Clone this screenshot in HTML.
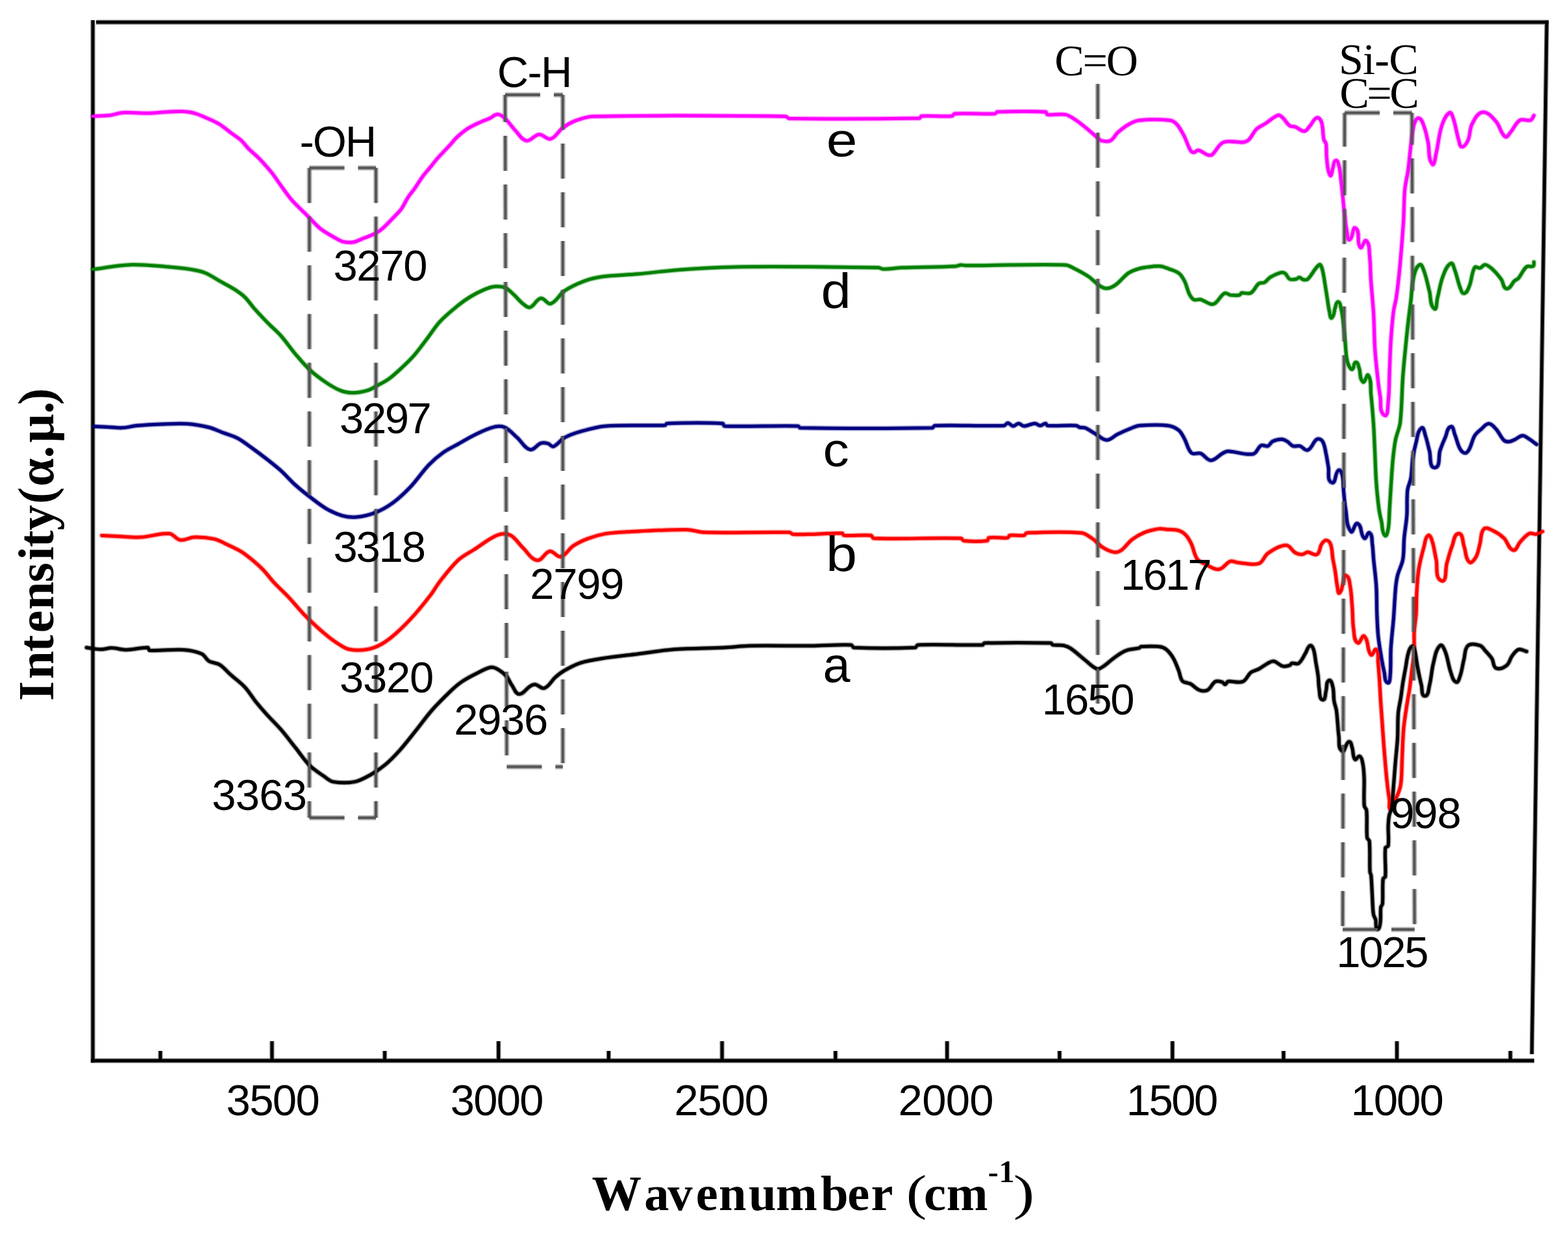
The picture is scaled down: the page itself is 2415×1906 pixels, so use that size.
<!DOCTYPE html><html><head><meta charset="utf-8"><title>FTIR spectra</title><style>html,body{margin:0;padding:0;background:#fff;}svg{display:block;}</style></head><body>
<svg width="2415" height="1906" viewBox="0 0 2415 1906">
<rect width="2415" height="1906" fill="#fff"/>
<defs>
<path id="fr" d="M143,31 V1636 M148,34.2 H2385 M140,1633 H2363 M2382.3,31.5 L2359.3,1623 M418.9,1603 V1633 M767.8,1603 V1633 M1112.1,1603 V1633 M1458.7,1603 V1633 M1805.8,1603 V1633 M2151.5,1603 V1633 M247,1618 V1633 M592.6,1618 V1633 M937.4,1618 V1633 M1286.8,1618 V1633 M1631.9,1618 V1633 M1976.9,1618 V1633 M2326.2,1618 V1633"/>
<path id="ds0" d="M476.5,258.6 L476.5,1259"/>
<path id="ds1" d="M579,258.6 L579,1259"/>
<path id="ds2" d="M476.5,258.6 L579,258.6"/>
<path id="ds3" d="M476.5,1259 L579,1259"/>
<path id="ds4" d="M778,146 L780.5,1180.6"/>
<path id="ds5" d="M866.8,146 L866.8,1180.6"/>
<path id="ds6" d="M778,146 L866.8,146"/>
<path id="ds7" d="M780.5,1180.6 L866.8,1180.6"/>
<path id="ds8" d="M1690.8,129.3 L1690.8,1086"/>
<path id="ds9" d="M2071,173.7 L2068,1431"/>
<path id="ds10" d="M2174.6,173.7 L2178.7,1431"/>
<path id="ds11" d="M2071,173.7 L2174.6,173.7"/>
<path id="ds12" d="M2068,1431 L2178.7,1431"/>
<path id="cve" d="M143.0,179.0 C151.8,178.5 160.6,178.6 169.3,177.6 C175.9,176.8 182.1,173.9 188.7,173.5 C201.6,172.8 214.6,174.5 227.5,174.3 C236.8,174.2 246.0,173.1 255.3,172.6 C263.6,172.2 271.9,171.2 280.2,171.5 C286.7,171.8 293.3,172.5 299.6,174.3 C307.3,176.5 314.5,180.0 321.8,183.2 C327.5,185.7 333.2,188.2 338.4,191.5 C344.3,195.2 349.5,199.9 355.0,204.0 C360.6,208.2 366.5,211.8 371.7,216.4 C375.9,220.1 378.9,225.0 382.8,228.9 C388.1,234.2 394.2,238.8 399.4,244.2 C406.2,251.3 412.7,258.7 418.8,266.3 C423.8,272.5 428.0,279.3 432.7,285.7 C438.2,293.2 443.2,301.0 449.3,307.9 C457.1,316.7 466.0,324.6 474.3,332.9 C480.8,339.4 486.5,346.6 493.7,352.3 C500.5,357.7 508.4,361.6 515.9,366.0 C519.6,368.2 523.2,370.7 527.4,371.8 C532.6,373.1 538.1,373.7 543.4,373.0 C548.2,372.4 552.4,369.8 556.9,368.1 C563.9,365.3 571.1,362.9 577.8,359.5 C581.8,357.5 585.5,355.0 588.8,352.1 C594.9,346.8 600.4,340.7 606.0,334.9 C610.2,330.5 614.7,326.3 618.3,321.4 C622.2,316.0 624.6,309.7 628.2,304.2 C631.6,299.1 635.7,294.4 639.2,289.4 C643.4,283.4 647.1,276.9 651.5,271.0 C655.3,265.8 659.7,261.2 663.8,256.2 C667.1,252.1 670.2,247.8 673.7,243.9 C679.6,237.2 686.0,230.9 692.1,224.3 C696.2,219.8 699.9,214.8 704.4,210.7 C709.8,205.8 715.4,201.1 721.6,197.2 C727.8,193.3 734.6,190.5 741.3,187.4 C745.3,185.6 749.6,184.3 753.6,182.5 C758.0,180.5 761.6,176.1 766.4,176.0 C770.6,175.9 774.4,179.2 777.5,182.0 C783.8,187.8 788.3,195.3 794.2,201.4 C799.4,206.8 803.4,215.5 810.8,216.6 C817.9,217.7 823.0,207.4 830.2,206.9 C836.6,206.4 842.0,215.6 848.2,213.9 C856.1,211.8 859.6,202.1 866.2,197.2 C872.2,192.7 878.7,188.8 885.7,186.1 C894.6,182.7 903.9,179.4 913.4,179.2 C1012.2,177.1 1111.1,178.1 1210.0,179.2 C1212.2,179.2 1213.4,182.5 1215.6,182.5 C1282.5,183.4 1349.4,183.2 1416.3,182.0 C1417.7,182.0 1417.7,178.8 1419.1,178.7 C1434.8,177.7 1450.5,179.8 1466.2,178.7 C1468.1,178.6 1468.5,175.1 1470.4,175.0 C1491.2,173.8 1512.0,175.9 1532.8,175.0 C1534.1,174.9 1534.3,172.3 1535.6,172.3 C1560.5,171.4 1585.5,171.0 1610.4,172.3 C1612.1,172.4 1611.6,176.2 1613.2,176.4 C1622.4,177.6 1631.8,174.9 1640.9,176.4 C1646.0,177.3 1650.4,180.6 1654.8,183.4 C1660.6,187.1 1666.0,191.5 1671.4,195.8 C1678.0,201.2 1684.2,207.0 1690.8,212.5 C1692.6,214.0 1694.1,216.1 1696.4,216.6 C1700.9,217.6 1706.1,218.7 1710.2,216.6 C1715.2,214.1 1717.2,207.9 1721.3,204.2 C1726.5,199.6 1732.0,195.1 1738.0,191.7 C1743.2,188.8 1748.7,185.9 1754.6,185.3 C1770.2,183.7 1786.1,183.6 1801.7,185.3 C1805.9,185.8 1809.9,188.5 1812.8,191.7 C1817.5,196.9 1820.6,203.4 1823.9,209.7 C1827.5,216.7 1829.4,224.5 1833.4,231.3 C1834.5,233.1 1836.5,234.8 1838.6,234.8 C1841.2,234.8 1843.1,230.9 1845.7,231.3 C1850.8,232.2 1854.8,236.7 1859.7,238.3 C1861.9,239.0 1864.9,239.7 1866.7,238.3 C1873.6,232.9 1876.2,222.3 1884.3,219.0 C1893.5,215.2 1904.3,219.9 1914.2,219.0 C1917.3,218.7 1920.7,217.7 1923.0,215.5 C1928.0,210.7 1930.3,203.6 1935.3,198.8 C1939.3,195.0 1944.7,193.0 1949.3,190.0 C1955.8,185.8 1961.3,179.7 1968.6,177.3 C1971.1,176.5 1973.6,179.4 1975.6,181.2 C1979.6,184.9 1981.8,190.3 1986.2,193.5 C1988.6,195.3 1992.2,194.3 1995.0,195.3 C1999.8,197.1 2003.9,202.3 2009.0,201.9 C2013.0,201.6 2015.0,196.5 2017.8,193.5 C2021.5,189.6 2023.2,182.8 2028.4,181.2 C2031.6,180.2 2034.4,185.1 2035.4,188.2 C2038.1,196.7 2037.1,205.9 2038.9,214.6 C2039.4,217.2 2042.0,219.0 2042.4,221.6 C2043.5,228.6 2042.4,235.7 2043.3,242.7 C2044.5,251.9 2043.8,262.0 2048.6,269.9 C2050.7,273.4 2051.5,262.3 2053.0,258.5 C2054.4,254.7 2053.3,247.8 2057.3,247.1 C2060.9,246.4 2061.6,253.2 2062.6,256.7 C2064.3,263.0 2064.4,269.6 2065.2,276.1 C2066.0,282.6 2066.7,289.2 2067.4,295.7 C2068.5,305.9 2069.3,316.2 2070.5,326.4 C2071.7,336.7 2072.6,347.0 2074.6,357.1 C2075.4,361.2 2074.9,370.7 2078.7,369.0 C2084.8,366.3 2082.5,347.4 2087.9,351.3 C2096.1,357.3 2088.5,373.2 2095.1,381.0 C2098.1,384.5 2100.8,367.7 2104.3,370.7 C2110.2,375.7 2108.5,385.6 2109.4,393.3 C2110.9,406.2 2110.6,419.2 2111.5,432.2 C2112.7,449.3 2114.6,466.3 2115.6,483.4 C2116.6,501.1 2116.5,519.0 2117.6,536.7 C2118.5,551.1 2120.1,565.5 2121.7,579.8 C2122.8,590.1 2124.0,600.3 2125.8,610.5 C2127.5,620.1 2123.9,633.8 2132.0,639.2 C2137.9,643.2 2137.3,625.8 2138.1,618.7 C2140.0,602.4 2139.5,585.9 2140.2,569.5 C2140.9,554.5 2141.2,539.4 2142.2,524.4 C2143.2,509.3 2144.4,494.3 2146.3,479.3 C2147.2,472.4 2149.3,465.8 2150.4,458.9 C2152.1,448.0 2153.3,437.1 2154.5,426.1 C2156.1,411.1 2157.4,396.0 2158.6,381.0 C2159.8,366.7 2160.9,352.3 2161.7,338.0 C2162.6,322.5 2162.3,307.0 2163.7,291.6 C2164.7,281.2 2167.5,271.1 2168.9,260.8 C2170.6,248.5 2171.4,236.2 2173.0,223.9 C2174.4,212.9 2175.0,201.7 2178.1,191.1 C2179.2,187.4 2181.5,180.9 2185.2,181.9 C2190.2,183.2 2191.6,190.3 2193.4,195.2 C2196.4,203.1 2197.8,211.5 2199.6,219.8 C2201.9,230.7 2199.0,243.7 2205.7,252.6 C2209.2,257.3 2210.5,241.9 2211.9,236.2 C2215.3,222.7 2215.8,208.4 2220.1,195.2 C2222.7,187.4 2225.5,178.3 2232.4,173.7 C2235.5,171.7 2237.3,179.5 2238.5,183.0 C2242.1,193.6 2243.4,205.0 2246.7,215.7 C2247.8,219.4 2248.0,226.0 2251.8,226.0 C2256.4,226.0 2259.2,219.9 2261.1,215.7 C2264.5,208.0 2263.3,198.6 2267.2,191.1 C2271.0,183.8 2275.4,173.6 2283.6,172.7 C2291.9,171.8 2298.5,180.9 2304.1,187.0 C2310.3,193.8 2311.0,205.2 2318.4,210.6 C2321.3,212.7 2324.2,206.1 2326.6,203.4 C2331.8,197.6 2334.3,189.0 2341.0,185.0 C2345.7,182.2 2352.2,186.7 2357.4,185.0 C2360.2,184.1 2360.8,180.2 2362.5,177.8"/>
<path id="cvd" d="M143.0,414.7 C161.9,412.4 180.7,408.4 199.8,407.7 C218.3,407.0 236.8,409.1 255.3,410.5 C268.2,411.5 281.2,412.7 294.0,414.7 C301.5,415.9 309.1,417.3 316.2,420.2 C324.1,423.4 331.0,428.5 338.4,432.7 C345.8,436.9 353.5,440.6 360.6,445.2 C366.4,448.9 372.2,452.8 377.2,457.6 C382.4,462.6 386.3,468.9 391.1,474.3 C398.3,482.4 405.7,490.2 413.3,498.0 C419.6,504.5 426.7,510.2 432.7,517.0 C440.6,525.9 447.2,535.9 454.9,545.0 C462.0,553.4 469.0,561.9 477.0,569.3 C484.7,576.5 493.3,582.8 502.0,588.7 C509.0,593.5 516.3,598.1 524.2,601.2 C530.3,603.6 537.0,604.8 543.6,604.8 C551.1,604.8 558.6,603.4 565.8,601.2 C571.7,599.4 577.0,595.8 582.4,592.9 C588.0,589.8 593.8,587.0 599.0,583.2 C605.9,578.2 612.2,572.3 618.4,566.5 C625.1,560.3 631.8,554.0 637.8,547.1 C644.8,539.1 650.9,530.4 657.3,522.0 C664.2,513.0 670.0,503.3 677.7,495.0 C686.1,485.9 695.8,478.1 705.4,470.3 C711.6,465.3 718.1,460.6 724.9,456.5 C732.0,452.3 739.4,448.6 747.0,445.4 C751.5,443.5 756.1,441.6 760.9,441.2 C766.4,440.7 772.4,440.5 777.5,442.6 C783.0,444.8 787.0,449.7 791.4,453.7 C796.3,458.1 800.1,463.5 805.3,467.5 C808.5,470.0 812.4,474.3 816.3,473.1 C823.2,471.0 825.9,460.5 833.0,459.2 C838.7,458.2 842.7,469.2 848.2,467.5 C857.3,464.7 861.1,453.4 869.0,448.1 C878.4,441.7 888.9,436.9 899.5,432.9 C908.4,429.5 917.8,427.3 927.2,426.0 C945.6,423.5 964.2,423.4 982.7,421.8 C1005.8,419.7 1028.8,416.5 1052.0,414.9 C1082.5,412.8 1113.0,411.0 1143.5,410.7 C1213.2,410.1 1282.9,410.9 1352.6,412.1 C1355.5,412.1 1358.0,414.3 1360.9,414.3 C1370.2,414.3 1379.3,412.5 1388.6,412.1 C1416.3,411.0 1444.1,411.2 1471.8,409.9 C1474.6,409.8 1477.3,408.1 1480.1,407.9 C1482.9,407.7 1485.6,408.8 1488.4,408.8 C1539.2,408.8 1590.1,406.5 1640.9,407.9 C1645.9,408.0 1650.3,411.3 1654.8,413.5 C1662.4,417.3 1669.9,421.3 1676.9,426.0 C1682.9,430.1 1687.5,435.9 1693.6,439.8 C1696.9,442.0 1700.8,444.2 1704.7,444.0 C1709.7,443.7 1714.4,441.3 1718.5,438.4 C1725.7,433.3 1730.7,425.4 1738.0,420.4 C1742.9,417.0 1748.8,415.2 1754.6,413.5 C1760.0,411.9 1765.6,411.3 1771.2,410.7 C1776.7,410.1 1782.3,409.3 1787.8,409.9 C1792.0,410.4 1796.0,412.3 1800.0,413.8 C1805.4,415.9 1811.3,417.2 1815.8,420.8 C1819.8,423.9 1822.3,428.6 1824.6,433.1 C1827.7,439.2 1828.5,446.3 1831.6,452.4 C1833.3,455.8 1835.2,459.5 1838.6,461.2 C1841.8,462.8 1845.8,460.3 1849.2,461.2 C1854.8,462.7 1859.4,466.9 1865.0,468.2 C1867.3,468.7 1870.1,468.0 1872.0,466.5 C1877.4,462.2 1880.1,454.7 1886.1,451.5 C1888.8,450.0 1891.9,453.8 1894.9,454.2 C1899.5,454.7 1904.3,455.0 1908.9,454.2 C1910.5,453.9 1910.8,451.3 1912.4,451.0 C1917.0,450.2 1922.4,453.3 1926.5,451.0 C1932.0,448.0 1933.8,440.4 1938.8,436.6 C1941.1,434.8 1944.9,436.3 1947.5,434.9 C1951.0,433.0 1952.9,429.0 1956.3,426.9 C1961.2,423.9 1966.5,421.4 1972.1,419.9 C1974.4,419.3 1977.2,419.4 1979.2,420.8 C1982.3,422.9 1982.9,427.9 1986.2,429.6 C1989.3,431.2 1993.3,430.2 1996.7,429.6 C1998.4,429.3 1999.4,426.8 2001.1,426.9 C2003.5,427.1 2005.0,430.0 2007.3,430.5 C2009.6,431.0 2012.6,431.2 2014.3,429.6 C2021.2,423.2 2024.3,413.1 2031.9,407.6 C2034.0,406.1 2035.6,411.4 2036.3,413.8 C2038.5,421.2 2039.3,429.0 2040.6,436.6 C2041.9,444.2 2043.0,451.8 2044.2,459.4 C2045.3,466.4 2046.1,473.6 2047.7,480.5 C2048.4,483.6 2048.7,491.3 2051.2,489.3 C2055.5,485.8 2054.5,478.7 2056.5,473.5 C2057.7,470.4 2057.6,464.7 2060.9,464.7 C2064.2,464.7 2064.4,470.3 2065.2,473.5 C2067.0,480.4 2067.8,487.5 2068.7,494.6 C2069.8,503.3 2070.6,512.1 2071.4,520.9 C2072.3,530.9 2072.6,540.9 2074.0,550.8 C2074.6,555.0 2075.6,559.3 2077.5,563.1 C2078.6,565.3 2080.6,569.5 2082.8,568.4 C2086.3,566.6 2084.2,558.5 2088.1,557.8 C2091.5,557.2 2092.1,563.4 2093.3,566.6 C2095.9,573.5 2093.4,583.4 2099.2,588.0 C2102.6,590.7 2105.0,574.1 2107.4,577.7 C2112.8,585.7 2110.5,596.8 2111.5,606.4 C2113.2,622.6 2114.5,638.8 2115.6,655.0 C2116.5,669.1 2116.9,683.3 2117.6,697.4 C2118.3,712.4 2118.6,727.5 2119.7,742.5 C2120.7,756.2 2122.0,769.8 2123.8,783.4 C2124.7,790.3 2126.4,797.1 2127.9,803.9 C2129.4,810.8 2128.0,819.4 2133.0,824.4 C2135.7,827.1 2137.4,817.9 2138.1,814.2 C2139.9,804.1 2139.5,793.7 2140.2,783.4 C2140.9,772.5 2141.5,761.6 2142.2,750.7 C2143.2,736.3 2143.9,721.9 2145.3,707.6 C2146.3,697.3 2147.4,687.0 2149.4,676.9 C2151.2,667.9 2155.5,659.4 2156.6,650.2 C2159.3,626.9 2159.0,603.2 2160.7,579.8 C2161.8,564.7 2163.3,549.7 2164.8,534.7 C2166.1,521.7 2167.4,508.7 2168.9,495.7 C2170.1,484.8 2171.7,473.9 2173.0,463.0 C2174.4,451.4 2174.3,439.5 2177.0,428.1 C2178.8,420.8 2179.9,411.6 2186.3,407.6 C2189.8,405.4 2191.9,414.0 2193.4,417.9 C2197.1,427.8 2198.9,438.4 2201.6,448.6 C2204.0,457.5 2201.8,469.3 2208.8,475.2 C2213.2,478.9 2212.4,464.4 2213.9,458.9 C2216.8,448.0 2218.1,436.6 2222.1,426.1 C2225.0,418.7 2227.4,409.5 2234.4,405.6 C2237.9,403.7 2239.2,412.1 2240.6,415.8 C2244.0,424.5 2245.4,433.9 2248.8,442.5 C2250.2,445.9 2251.3,452.2 2254.9,451.7 C2259.5,451.0 2261.3,444.7 2263.1,440.4 C2266.9,431.2 2266.2,420.3 2271.3,411.7 C2272.7,409.3 2276.8,413.4 2279.5,412.7 C2282.6,411.9 2284.5,407.1 2287.7,407.6 C2292.6,408.3 2296.4,412.5 2300.0,415.8 C2304.6,420.1 2308.6,425.1 2312.3,430.2 C2315.5,434.7 2315.0,444.0 2320.5,444.5 C2326.3,445.1 2328.5,436.1 2332.8,432.2 C2334.6,430.6 2337.3,430.0 2338.9,428.1 C2343.5,422.7 2345.7,415.2 2351.2,410.7 C2353.9,408.5 2358.6,411.6 2361.5,409.7 C2363.3,408.6 2362.2,405.6 2362.5,403.5"/>
<path id="cvc" d="M144.4,656.6 C151.8,656.9 159.1,657.2 166.5,657.5 C173.9,657.8 181.3,659.0 188.7,658.6 C196.2,658.2 203.5,656.0 210.9,655.3 C223.8,654.1 236.8,653.5 249.7,653.0 C262.6,652.5 275.6,651.6 288.5,652.5 C299.7,653.3 310.9,655.3 321.8,658.0 C329.5,659.9 336.6,663.5 344.0,666.3 C351.4,669.1 359.1,671.0 366.1,674.7 C374.0,678.9 381.0,684.7 388.3,689.9 C395.8,695.3 403.2,700.8 410.5,706.5 C418.0,712.4 425.6,718.2 432.7,724.6 C440.4,731.6 447.2,739.7 454.9,746.7 C462.0,753.1 469.4,759.0 477.0,764.8 C485.2,771.0 493.1,777.6 502.0,782.8 C509.9,787.4 518.2,791.4 526.9,793.9 C534.1,795.9 541.7,796.7 549.1,796.1 C558.5,795.3 568.0,793.1 576.8,789.7 C586.6,785.9 596.0,780.7 604.6,774.5 C614.7,767.2 623.7,758.5 632.3,749.5 C642.2,739.0 650.1,726.7 660.0,716.2 C666.7,709.1 674.2,702.7 682.2,697.0 C689.4,691.8 697.6,688.1 705.4,683.8 C714.6,678.6 723.6,673.0 733.2,668.5 C742.2,664.2 751.2,659.7 760.9,657.4 C766.3,656.1 772.5,655.7 777.5,658.0 C785.1,661.5 790.6,668.6 796.9,674.1 C803.5,679.9 807.7,690.1 816.3,692.1 C822.6,693.5 826.9,684.4 833.0,682.4 C836.5,681.2 840.5,682.0 844.1,682.9 C847.1,683.7 849.4,688.4 852.4,687.4 C859.1,685.0 862.8,677.5 869.0,674.1 C876.8,669.8 885.4,666.8 894.0,664.4 C906.7,660.8 919.6,657.0 932.8,656.0 C963.2,653.7 993.8,656.0 1024.3,654.7 C1025.6,654.6 1025.7,651.9 1027.0,651.9 C1055.7,651.0 1084.4,650.6 1113.0,651.9 C1114.7,652.0 1114.1,655.9 1115.8,656.0 C1153.6,657.3 1191.5,655.1 1229.4,656.0 C1230.7,656.0 1230.9,658.8 1232.2,658.8 C1300.0,659.7 1367.9,660.0 1435.7,658.8 C1437.5,658.8 1438.1,655.3 1439.9,655.2 C1475.4,654.0 1511.1,656.4 1546.6,655.2 C1548.9,655.1 1549.9,651.2 1552.2,651.3 C1555.4,651.5 1557.3,655.9 1560.5,656.0 C1563.6,656.1 1565.7,651.9 1568.8,651.9 C1571.9,651.9 1574.0,656.0 1577.1,656.0 C1582.8,656.0 1588.1,652.1 1593.8,651.9 C1596.8,651.8 1599.1,655.2 1602.1,655.2 C1605.1,655.2 1607.4,651.9 1610.4,651.9 C1611.8,651.9 1611.8,655.1 1613.2,655.2 C1627.9,656.2 1642.8,654.4 1657.5,655.2 C1659.6,655.3 1661.1,657.5 1663.1,658.0 C1665.8,658.7 1668.8,657.7 1671.4,658.8 C1677.3,661.3 1682.4,665.4 1688.0,668.5 C1693.5,671.6 1698.4,677.4 1704.7,677.4 C1711.0,677.4 1715.6,671.2 1721.3,668.5 C1728.6,665.0 1736.0,661.8 1743.5,658.8 C1747.1,657.4 1750.7,655.5 1754.6,655.2 C1769.3,654.2 1784.2,653.4 1798.9,655.2 C1804.9,655.9 1810.9,658.7 1815.6,662.5 C1819.8,666.0 1821.9,671.4 1824.6,676.2 C1828.4,683.1 1829.2,692.1 1835.1,697.3 C1838.6,700.4 1844.8,696.5 1849.2,698.2 C1855.1,700.5 1858.7,708.7 1865.0,708.7 C1871.8,708.7 1876.6,701.4 1882.6,698.2 C1885.4,696.7 1888.2,694.6 1891.3,694.7 C1904.3,694.9 1917.2,701.2 1930.0,699.0 C1935.9,698.0 1937.0,688.7 1942.3,685.9 C1945.4,684.2 1949.5,687.9 1952.8,686.7 C1955.9,685.6 1956.8,681.2 1959.8,679.7 C1964.1,677.5 1969.1,676.2 1973.9,676.2 C1977.1,676.2 1980.0,678.1 1982.7,679.7 C1985.9,681.6 1988.0,685.4 1991.5,686.7 C1994.8,687.9 1998.6,685.8 2002.0,686.7 C2006.4,687.9 2010.0,694.6 2014.3,692.9 C2021.1,690.2 2022.1,679.9 2028.4,676.2 C2031.1,674.6 2035.5,677.0 2037.1,679.7 C2040.6,685.4 2040.9,692.5 2042.4,699.0 C2043.9,705.4 2044.6,712.0 2045.9,718.4 C2047.5,726.6 2043.3,740.2 2051.2,743.0 C2058.0,745.4 2055.5,727.9 2061.5,724.0 C2064.4,722.1 2066.8,729.0 2067.6,732.3 C2069.5,740.3 2068.7,748.6 2069.5,756.8 C2070.4,765.7 2070.9,774.6 2072.5,783.4 C2074.6,795.2 2073.1,809.1 2080.7,818.3 C2084.1,822.4 2086.2,803.6 2091.0,806.0 C2098.4,809.7 2094.7,823.4 2101.2,828.5 C2104.3,830.9 2106.2,818.2 2109.4,820.3 C2114.1,823.4 2112.7,831.1 2113.5,836.7 C2114.7,844.8 2114.8,853.1 2115.6,861.3 C2116.9,875.0 2118.9,888.6 2119.7,902.3 C2120.6,916.4 2120.2,930.5 2120.7,944.6 C2121.2,956.2 2121.5,967.8 2122.7,979.4 C2123.9,991.1 2126.0,1002.7 2127.9,1014.3 C2129.1,1021.2 2130.3,1028.0 2132.0,1034.8 C2133.4,1040.3 2131.9,1048.8 2137.1,1051.1 C2141.0,1052.8 2140.8,1043.2 2141.2,1038.9 C2142.5,1025.3 2141.4,1011.5 2142.2,997.9 C2143.1,982.8 2145.1,967.8 2146.3,952.8 C2147.5,937.3 2148.0,921.8 2149.4,906.4 C2150.0,899.5 2150.8,892.6 2152.5,885.9 C2154.6,877.5 2159.2,869.8 2160.7,861.3 C2162.6,850.5 2161.7,839.4 2162.7,828.5 C2163.7,816.9 2166.0,805.4 2166.8,793.7 C2167.7,780.8 2166.4,767.7 2167.8,754.8 C2168.5,748.4 2171.9,742.6 2173.0,736.3 C2174.7,726.2 2174.5,715.8 2176.0,705.6 C2177.2,697.3 2178.8,689.1 2181.1,681.0 C2183.2,673.5 2182.9,663.5 2189.3,659.0 C2193.0,656.4 2194.0,666.8 2195.5,671.0 C2198.1,678.5 2199.4,686.4 2201.6,694.0 C2204.1,702.7 2200.8,720.3 2209.8,719.9 C2219.1,719.5 2214.9,702.1 2218.0,693.3 C2220.4,686.3 2223.2,679.5 2226.2,672.8 C2228.6,667.4 2228.7,658.6 2234.4,657.0 C2238.6,655.8 2238.9,664.6 2240.6,668.7 C2243.7,676.1 2244.8,684.3 2248.8,691.2 C2250.5,694.2 2253.6,697.4 2257.0,697.4 C2259.9,697.4 2261.7,693.8 2263.1,691.2 C2266.6,684.7 2267.5,677.0 2271.3,670.7 C2273.8,666.6 2277.9,663.6 2281.6,660.5 C2285.1,657.5 2288.2,652.3 2292.8,652.3 C2297.5,652.3 2300.9,657.1 2304.1,660.5 C2308.9,665.7 2311.3,673.0 2316.4,677.9 C2318.4,679.8 2321.8,680.2 2324.6,680.0 C2327.5,679.8 2330.1,678.1 2332.8,676.9 C2337.0,675.0 2340.5,670.9 2345.1,670.7 C2348.9,670.5 2352.1,673.9 2355.3,675.9 C2359.2,678.4 2362.8,681.4 2366.6,684.1"/>
<path id="cvb" d="M156.8,824.4 C165.6,824.9 174.4,825.4 183.2,825.8 C194.3,826.3 205.3,827.7 216.4,827.1 C231.3,826.3 245.9,820.6 260.8,821.6 C267.2,822.0 271.1,830.4 277.4,831.3 C284.9,832.4 292.1,827.3 299.6,827.1 C309.8,826.8 320.1,827.7 330.1,829.9 C337.0,831.4 343.1,835.2 349.5,838.2 C357.0,841.7 364.6,845.0 371.7,849.3 C377.6,852.9 383.0,857.4 388.3,861.8 C394.1,866.6 399.8,871.6 405.0,877.0 C410.9,883.1 415.8,890.2 421.6,896.4 C428.7,904.1 436.6,911.0 443.8,918.6 C452.3,927.7 460.0,937.5 468.7,946.4 C478.5,956.3 488.6,965.9 499.2,974.9 C506.2,980.9 513.6,986.5 521.4,991.5 C526.6,994.8 531.9,998.7 538.0,999.8 C547.1,1001.5 556.7,1001.3 565.8,999.8 C573.6,998.5 581.0,995.4 587.9,991.5 C596.0,987.0 603.2,981.0 610.1,974.9 C619.9,966.2 629.0,956.8 637.8,947.1 C646.6,937.3 654.8,927.0 662.8,916.6 C668.1,909.7 672.3,901.9 677.7,895.0 C686.5,883.8 695.0,872.3 705.4,862.6 C712.7,855.8 722.0,851.4 730.4,846.0 C742.3,838.4 753.3,829.0 766.4,823.8 C772.4,821.4 780.0,820.9 785.8,823.8 C794.0,827.9 798.6,836.9 805.3,843.2 C812.5,849.9 817.7,861.3 827.4,862.6 C835.3,863.6 838.9,849.9 846.8,848.7 C852.9,847.7 857.4,858.4 863.5,857.0 C871.8,855.1 875.8,845.1 882.9,840.4 C889.8,835.8 897.4,832.2 905.1,829.3 C914.1,825.9 923.4,823.2 932.8,821.6 C943.7,819.7 954.9,819.3 966.0,818.8 C996.5,817.3 1027.0,815.3 1057.5,815.5 C1066.9,815.6 1075.9,819.4 1085.3,819.6 C1128.7,820.7 1172.2,818.7 1215.6,819.6 C1217.7,819.6 1219.0,822.2 1221.1,822.4 C1230.7,823.2 1240.4,822.6 1250.0,822.4 C1265.7,822.1 1281.4,820.4 1297.1,821.0 C1298.5,821.1 1298.5,824.2 1299.9,824.3 C1313.7,825.3 1327.7,822.9 1341.5,824.3 C1343.5,824.5 1343.6,828.7 1345.6,828.8 C1390.4,830.3 1435.3,827.6 1480.1,828.8 C1482.0,828.9 1482.4,832.4 1484.3,832.6 C1496.2,833.7 1508.4,834.0 1520.3,832.6 C1522.1,832.4 1521.3,828.2 1523.1,827.9 C1532.7,826.5 1542.6,829.0 1552.2,827.9 C1553.7,827.7 1553.5,824.5 1555.0,824.3 C1562.3,823.2 1569.8,825.4 1577.1,824.3 C1579.0,824.0 1579.4,820.5 1581.3,820.4 C1609.5,819.2 1637.8,817.9 1665.9,820.4 C1672.2,821.0 1677.3,825.7 1682.5,829.3 C1688.4,833.4 1693.0,839.4 1699.1,843.2 C1704.2,846.4 1709.8,849.2 1715.8,850.1 C1719.5,850.7 1723.7,849.5 1726.8,847.3 C1733.2,842.8 1737.3,835.5 1743.5,830.7 C1749.4,826.2 1756.0,822.4 1762.9,819.6 C1770.0,816.8 1777.6,815.2 1785.1,814.1 C1788.8,813.6 1792.5,814.6 1796.2,814.9 C1802.7,815.5 1809.4,815.0 1815.6,816.8 C1819.7,818.0 1823.4,820.7 1826.3,823.8 C1830.1,827.8 1832.7,832.8 1835.1,837.8 C1838.6,845.1 1839.1,854.0 1843.9,860.6 C1847.2,865.1 1853.0,867.0 1858.0,869.4 C1864.2,872.3 1870.5,877.5 1877.3,876.5 C1884.4,875.5 1888.2,866.7 1894.9,864.2 C1898.2,862.9 1901.9,865.6 1905.4,865.9 C1916.5,866.8 1928.1,870.9 1938.8,867.7 C1945.5,865.7 1946.9,855.8 1952.8,851.9 C1961.3,846.2 1970.7,839.8 1980.9,839.6 C1986.9,839.5 1989.7,848.0 1995.0,851.0 C1998.1,852.8 2001.9,853.8 2005.5,853.6 C2008.7,853.5 2011.1,850.1 2014.3,850.1 C2019.1,850.1 2024.2,856.0 2028.4,853.6 C2033.4,850.7 2032.3,842.7 2035.4,837.8 C2037.1,835.2 2039.3,831.7 2042.4,831.7 C2045.5,831.7 2048.3,834.9 2049.4,837.8 C2052.0,845.0 2051.6,853.0 2052.9,860.6 C2054.0,867.1 2055.5,873.5 2056.5,880.0 C2057.8,888.2 2058.4,896.5 2060.0,904.6 C2060.6,907.5 2060.7,914.9 2063.0,913.0 C2067.3,909.5 2066.8,902.7 2068.7,897.5 C2070.1,893.7 2069.1,884.7 2073.0,886.0 C2078.1,887.7 2078.3,895.7 2079.3,901.0 C2081.6,912.9 2081.8,925.0 2082.8,937.1 C2083.7,947.8 2083.1,958.6 2084.8,969.2 C2085.9,976.3 2084.9,985.9 2091.0,989.7 C2095.1,992.3 2097.6,976.2 2101.2,979.4 C2108.8,986.2 2104.7,1000.6 2111.5,1008.1 C2114.1,1011.0 2117.1,997.1 2119.7,999.9 C2124.3,1004.9 2121.8,1013.3 2122.5,1020.0 C2123.4,1028.3 2123.9,1036.7 2124.5,1045.0 C2125.3,1056.7 2125.8,1068.3 2126.5,1080.0 C2127.3,1091.7 2128.2,1103.3 2129.0,1115.0 C2129.8,1126.7 2130.6,1138.3 2131.5,1150.0 C2132.3,1160.0 2133.1,1170.0 2134.0,1180.0 C2134.9,1190.0 2135.8,1200.0 2137.0,1210.0 C2137.8,1217.4 2138.9,1224.7 2140.0,1232.0 C2140.7,1236.7 2137.8,1245.9 2142.5,1246.0 C2147.6,1246.1 2147.1,1236.9 2149.0,1232.2 C2152.0,1224.5 2155.9,1217.0 2157.2,1208.8 C2159.4,1195.3 2158.8,1181.5 2159.5,1167.8 C2160.3,1152.2 2160.4,1136.6 2161.9,1121.0 C2163.2,1107.3 2165.6,1093.6 2167.7,1080.0 C2168.6,1073.8 2170.0,1067.6 2170.9,1061.4 C2172.4,1050.5 2173.6,1039.5 2175.0,1028.6 C2176.0,1021.1 2177.7,1013.7 2178.1,1006.1 C2178.7,995.2 2177.6,984.2 2178.1,973.3 C2178.6,963.7 2180.5,954.2 2181.1,944.6 C2181.8,933.8 2181.4,922.9 2182.0,912.0 C2182.7,899.9 2183.3,887.7 2185.2,875.7 C2187.1,863.9 2190.2,852.3 2193.4,840.8 C2195.0,835.2 2194.7,827.6 2199.6,824.4 C2202.4,822.5 2204.6,829.4 2205.7,832.6 C2208.8,841.9 2209.7,851.8 2211.9,861.3 C2214.5,872.3 2209.6,890.1 2220.1,894.1 C2228.8,897.4 2225.6,876.4 2228.3,867.5 C2231.0,858.6 2233.0,849.4 2236.5,840.8 C2239.2,834.0 2239.4,821.4 2246.7,821.4 C2253.7,821.4 2252.4,834.2 2254.9,840.8 C2257.9,848.9 2256.6,859.7 2263.1,865.4 C2266.4,868.3 2271.2,861.0 2273.4,857.2 C2276.9,851.0 2277.5,843.6 2279.5,836.7 C2281.6,829.2 2280.0,819.5 2285.7,814.2 C2289.2,810.8 2295.6,815.2 2300.0,817.3 C2306.0,820.1 2311.6,823.9 2316.4,828.5 C2322.0,833.9 2323.1,845.1 2330.7,847.0 C2335.9,848.3 2337.3,838.6 2341.0,834.7 C2345.5,830.0 2349.5,824.3 2355.3,821.4 C2358.4,819.9 2362.2,822.9 2365.6,822.4 C2369.2,821.9 2372.4,819.7 2375.8,818.3"/>
<path id="cva" d="M133.3,997.0 C140.7,997.9 148.0,999.7 155.4,999.8 C161.0,999.9 166.5,997.5 172.1,997.6 C179.6,997.7 186.8,1000.5 194.3,1000.4 C205.4,1000.3 216.4,996.8 227.5,997.0 C229.2,997.0 228.6,1001.1 230.3,1001.2 C247.8,1002.3 265.5,999.2 283.0,1000.4 C292.4,1001.0 302.1,1002.8 310.7,1006.7 C315.5,1008.8 317.3,1015.1 321.8,1017.8 C326.8,1020.8 333.5,1020.3 338.4,1023.4 C344.8,1027.4 349.4,1033.6 355.0,1038.6 C362.3,1045.1 370.5,1050.8 377.2,1058.0 C383.5,1064.8 388.1,1073.0 393.9,1080.2 C399.2,1086.8 404.8,1093.3 410.5,1099.6 C417.7,1107.6 425.6,1115.0 432.7,1123.2 C440.4,1132.1 447.5,1141.7 454.9,1150.9 C462.3,1160.1 468.7,1170.2 477.0,1178.6 C483.5,1185.2 491.6,1190.0 499.2,1195.3 C503.6,1198.4 507.8,1202.7 513.1,1203.6 C524.0,1205.5 535.5,1205.7 546.4,1203.6 C555.3,1201.9 563.4,1196.9 571.3,1192.5 C579.1,1188.1 586.6,1183.0 593.5,1177.2 C601.5,1170.5 608.7,1162.9 615.7,1155.1 C624.5,1145.3 632.4,1134.8 640.6,1124.6 C649.0,1114.1 656.7,1103.1 665.6,1093.0 C674.7,1082.7 684.5,1073.1 694.4,1063.6 C699.6,1058.6 705.0,1053.8 711.0,1049.7 C718.0,1044.9 725.6,1041.0 733.2,1037.2 C740.4,1033.6 747.5,1029.1 755.4,1027.5 C759.1,1026.7 763.1,1028.5 766.4,1030.3 C771.6,1033.2 776.4,1037.0 780.3,1041.4 C783.9,1045.4 785.5,1050.9 788.6,1055.3 C792.0,1060.0 793.9,1068.3 799.7,1068.6 C806.5,1068.9 810.4,1060.1 816.3,1056.6 C818.8,1055.1 821.8,1053.5 824.7,1053.9 C829.6,1054.5 833.8,1061.1 838.5,1059.4 C845.9,1056.7 849.3,1048.0 855.2,1042.8 C859.5,1039.0 864.0,1035.4 869.0,1032.5 C877.0,1027.9 885.2,1023.4 894.0,1020.6 C904.8,1017.1 916.0,1015.4 927.2,1013.7 C945.6,1010.8 964.2,1009.0 982.7,1006.7 C1001.2,1004.4 1019.5,1001.2 1038.1,999.8 C1063.9,997.9 1089.9,998.2 1115.8,997.0 C1128.8,996.4 1141.6,994.6 1154.6,994.3 C1186.4,993.7 1218.2,994.6 1250.0,994.3 C1270.3,994.1 1290.7,992.1 1311.0,992.9 C1312.9,993.0 1313.2,996.9 1315.1,997.0 C1346.5,998.3 1378.0,998.3 1409.4,997.0 C1411.4,996.9 1411.6,993.0 1413.6,992.9 C1446.8,991.6 1480.1,993.8 1513.4,992.9 C1514.7,992.9 1514.8,990.1 1516.1,990.1 C1550.3,989.2 1584.5,989.2 1618.7,990.1 C1620.0,990.1 1620.2,992.7 1621.5,992.9 C1626.9,993.9 1632.7,992.6 1638.1,993.7 C1642.0,994.5 1645.9,996.1 1649.2,998.4 C1657.1,1003.8 1663.9,1010.5 1671.4,1016.4 C1677.3,1021.0 1682.4,1027.2 1689.4,1029.7 C1692.7,1030.8 1696.2,1027.9 1699.1,1026.1 C1704.1,1023.0 1708.3,1018.6 1713.0,1015.1 C1717.5,1011.7 1721.9,1008.2 1726.8,1005.3 C1730.3,1003.2 1734.0,1001.5 1737.9,1000.4 C1743.3,998.9 1749.1,999.0 1754.6,997.6 C1755.7,997.3 1756.2,995.7 1757.3,995.6 C1766.5,995.0 1775.9,994.6 1785.1,995.6 C1789.0,996.0 1793.1,997.3 1796.2,999.8 C1800.8,1003.5 1804.3,1008.6 1807.3,1013.7 C1810.8,1019.8 1813.0,1026.6 1815.6,1033.1 C1817.6,1038.1 1817.5,1044.3 1821.1,1048.3 C1824.0,1051.5 1829.6,1050.7 1833.4,1052.8 C1838.4,1055.5 1842.1,1060.5 1847.4,1062.5 C1851.2,1063.9 1856.1,1064.4 1859.7,1062.5 C1865.0,1059.7 1866.7,1052.1 1872.0,1049.3 C1875.1,1047.6 1879.2,1049.2 1882.6,1050.2 C1884.4,1050.7 1885.1,1053.9 1887.0,1053.7 C1889.0,1053.5 1889.3,1049.6 1891.3,1049.3 C1898.8,1048.1 1907.1,1052.1 1914.2,1049.3 C1920.0,1047.0 1921.6,1039.1 1926.5,1035.3 C1930.0,1032.5 1934.9,1032.1 1938.8,1030.0 C1943.1,1027.7 1946.8,1024.4 1951.1,1022.1 C1954.4,1020.4 1957.9,1017.5 1961.6,1018.0 C1966.9,1018.8 1970.5,1024.3 1975.6,1025.6 C1979.0,1026.5 1982.8,1025.5 1986.2,1024.4 C1987.7,1023.9 1988.2,1021.6 1989.7,1021.2 C1993.1,1020.4 1997.4,1023.3 2000.2,1021.2 C2005.3,1017.4 2007.4,1010.7 2010.8,1005.4 C2013.2,1001.7 2013.7,995.8 2017.8,994.0 C2020.3,992.9 2022.2,997.6 2023.1,1000.1 C2025.2,1006.3 2025.5,1013.0 2026.6,1019.4 C2027.8,1026.4 2029.2,1033.4 2030.1,1040.5 C2031.0,1047.5 2030.6,1054.7 2031.9,1061.6 C2032.9,1067.0 2031.6,1076.5 2037.1,1077.4 C2042.0,1078.2 2040.9,1068.1 2042.4,1063.4 C2044.1,1058.2 2041.9,1050.0 2046.8,1047.5 C2050.4,1045.7 2051.9,1054.1 2052.9,1058.1 C2054.6,1064.9 2053.6,1072.2 2054.7,1079.2 C2055.4,1084.0 2057.4,1088.5 2058.2,1093.2 C2059.2,1099.0 2059.4,1104.9 2060.0,1110.8 C2060.7,1118.2 2060.9,1125.7 2062.0,1133.0 C2063.2,1140.8 2060.2,1152.1 2067.0,1156.0 C2072.1,1158.9 2071.9,1143.4 2077.6,1142.0 C2081.2,1141.1 2081.6,1148.4 2082.8,1152.0 C2084.7,1157.5 2083.0,1164.7 2086.9,1169.0 C2088.8,1171.1 2091.4,1163.2 2094.0,1164.3 C2097.3,1165.7 2097.9,1170.5 2098.6,1174.0 C2100.2,1181.5 2100.7,1189.3 2101.0,1197.0 C2101.6,1211.5 2100.1,1226.0 2101.2,1240.5 C2101.4,1243.1 2104.5,1245.0 2104.7,1247.6 C2106.0,1261.6 2104.3,1275.7 2105.6,1289.7 C2105.8,1291.8 2108.9,1292.9 2109.1,1295.0 C2110.4,1310.7 2109.2,1326.6 2110.0,1342.4 C2110.1,1344.3 2111.5,1345.9 2111.7,1347.7 C2112.7,1358.2 2112.9,1368.8 2113.5,1379.3 C2114.1,1388.7 2114.0,1398.1 2115.3,1407.4 C2115.7,1410.5 2118.0,1413.2 2118.8,1416.2 C2120.0,1420.8 2117.6,1427.3 2121.4,1430.2 C2124.0,1432.2 2125.3,1424.7 2125.8,1421.5 C2127.1,1413.4 2125.7,1405.0 2126.7,1396.9 C2126.9,1394.9 2129.1,1393.6 2129.3,1391.6 C2130.3,1378.8 2128.9,1365.8 2130.2,1353.0 C2130.4,1351.3 2133.6,1351.1 2133.7,1349.4 C2134.8,1334.8 2132.3,1320.1 2133.7,1305.5 C2133.9,1303.6 2137.9,1303.9 2138.1,1302.0 C2139.4,1292.2 2137.8,1282.1 2138.1,1272.2 C2138.3,1266.6 2138.6,1261.1 2139.6,1255.6 C2140.3,1251.6 2142.7,1248.1 2143.4,1244.1 C2144.7,1236.3 2144.9,1228.4 2145.5,1220.5 C2146.7,1205.7 2147.8,1190.8 2149.0,1176.0 C2150.1,1162.7 2151.7,1149.5 2152.5,1136.2 C2153.2,1123.6 2152.5,1110.9 2153.5,1098.3 C2154.2,1090.0 2156.3,1081.9 2157.6,1073.7 C2158.7,1066.2 2159.5,1058.6 2160.7,1051.1 C2161.9,1043.6 2163.4,1036.1 2164.8,1028.6 C2166.2,1021.1 2166.7,1013.4 2168.9,1006.1 C2170.1,1002.0 2171.0,996.4 2175.0,994.8 C2177.6,993.8 2178.4,999.3 2179.1,1002.0 C2181.2,1010.0 2181.6,1018.4 2183.2,1026.6 C2185.0,1036.2 2186.9,1045.7 2189.3,1055.2 C2190.7,1060.8 2188.8,1071.6 2194.5,1071.6 C2200.5,1071.6 2200.1,1061.0 2201.6,1055.2 C2204.6,1043.8 2204.8,1031.8 2207.8,1020.4 C2210.3,1011.2 2210.9,1000.1 2218.0,993.8 C2221.3,990.9 2224.6,999.9 2226.2,1004.0 C2230.1,1013.9 2230.8,1024.8 2234.4,1034.8 C2236.3,1040.3 2237.3,1047.8 2242.6,1050.1 C2246.0,1051.5 2247.6,1044.4 2248.8,1040.9 C2251.8,1032.3 2252.6,1023.1 2254.9,1014.3 C2256.7,1007.4 2255.6,998.4 2261.1,993.8 C2265.8,989.9 2273.6,992.0 2279.5,993.8 C2283.2,994.9 2285.1,999.1 2287.7,1002.0 C2291.3,1006.0 2295.2,1009.7 2298.0,1014.3 C2300.7,1018.7 2299.4,1026.5 2304.1,1028.6 C2309.2,1030.9 2316.0,1027.9 2320.5,1024.5 C2324.9,1021.2 2325.4,1014.6 2328.7,1010.2 C2331.6,1006.4 2334.3,1001.5 2338.9,1000.0 C2342.9,998.7 2347.1,1002.0 2351.2,1003.0"/>
</defs>
<g fill="none" stroke-linejoin="round" stroke-linecap="round">
<use href="#fr" stroke="#000" stroke-width="7.4" stroke-opacity="0.45" stroke-linecap="butt"/>
<use href="#ds0" stroke="#555" stroke-width="8.0" stroke-opacity="0.42" stroke-dasharray="54 21" stroke-linecap="butt"/>
<use href="#ds1" stroke="#555" stroke-width="8.0" stroke-opacity="0.42" stroke-dasharray="54 21" stroke-linecap="butt"/>
<use href="#ds2" stroke="#555" stroke-width="8.0" stroke-opacity="0.42" stroke-dasharray="54 21" stroke-linecap="butt"/>
<use href="#ds3" stroke="#555" stroke-width="8.0" stroke-opacity="0.42" stroke-dasharray="54 21" stroke-linecap="butt"/>
<use href="#ds4" stroke="#555" stroke-width="8.0" stroke-opacity="0.42" stroke-dasharray="54 21" stroke-dashoffset="12" stroke-linecap="butt"/>
<use href="#ds5" stroke="#555" stroke-width="8.0" stroke-opacity="0.42" stroke-dasharray="54 21" stroke-linecap="butt"/>
<use href="#ds6" stroke="#555" stroke-width="8.0" stroke-opacity="0.42" stroke-dasharray="54 21" stroke-linecap="butt"/>
<use href="#ds7" stroke="#555" stroke-width="8.0" stroke-opacity="0.42" stroke-dasharray="54 21" stroke-linecap="butt"/>
<use href="#ds8" stroke="#555" stroke-width="8.0" stroke-opacity="0.42" stroke-dasharray="54 21" stroke-linecap="butt"/>
<use href="#ds9" stroke="#555" stroke-width="8.0" stroke-opacity="0.42" stroke-dasharray="54 21" stroke-dashoffset="2" stroke-linecap="butt"/>
<use href="#ds10" stroke="#555" stroke-width="8.0" stroke-opacity="0.42" stroke-dasharray="54 21" stroke-dashoffset="5" stroke-linecap="butt"/>
<use href="#ds11" stroke="#555" stroke-width="8.0" stroke-opacity="0.42" stroke-dasharray="54 21" stroke-linecap="butt"/>
<use href="#ds12" stroke="#555" stroke-width="8.0" stroke-opacity="0.42" stroke-dasharray="54 21" stroke-linecap="butt"/>
<use href="#cve" stroke="#ff00ff" stroke-width="8.0" stroke-opacity="0.35"/>
<use href="#cvd" stroke="#008000" stroke-width="8.0" stroke-opacity="0.35"/>
<use href="#cvc" stroke="#000080" stroke-width="8.0" stroke-opacity="0.35"/>
<use href="#cvb" stroke="#ff0000" stroke-width="8.0" stroke-opacity="0.35"/>
<use href="#cva" stroke="#000000" stroke-width="8.0" stroke-opacity="0.35"/>
<use href="#fr" stroke="#000" stroke-width="4.8" stroke-linecap="butt"/>
<use href="#cve" stroke="#ff00ff" stroke-width="5.0"/>
<use href="#cvd" stroke="#008000" stroke-width="5.0"/>
<use href="#cvc" stroke="#000080" stroke-width="5.0"/>
<use href="#cvb" stroke="#ff0000" stroke-width="5.0"/>
<use href="#cva" stroke="#000000" stroke-width="5.0"/>
<use href="#ds0" stroke="#555" stroke-width="4.0" stroke-dasharray="54 21" stroke-linecap="butt"/>
<use href="#ds1" stroke="#555" stroke-width="4.0" stroke-dasharray="54 21" stroke-linecap="butt"/>
<use href="#ds2" stroke="#555" stroke-width="4.0" stroke-dasharray="54 21" stroke-linecap="butt"/>
<use href="#ds3" stroke="#555" stroke-width="4.0" stroke-dasharray="54 21" stroke-linecap="butt"/>
<use href="#ds4" stroke="#555" stroke-width="4.0" stroke-dasharray="54 21" stroke-dashoffset="12" stroke-linecap="butt"/>
<use href="#ds5" stroke="#555" stroke-width="4.0" stroke-dasharray="54 21" stroke-linecap="butt"/>
<use href="#ds6" stroke="#555" stroke-width="4.0" stroke-dasharray="54 21" stroke-linecap="butt"/>
<use href="#ds7" stroke="#555" stroke-width="4.0" stroke-dasharray="54 21" stroke-linecap="butt"/>
<use href="#ds8" stroke="#555" stroke-width="4.0" stroke-dasharray="54 21" stroke-linecap="butt"/>
<use href="#ds9" stroke="#555" stroke-width="4.0" stroke-dasharray="54 21" stroke-dashoffset="2" stroke-linecap="butt"/>
<use href="#ds10" stroke="#555" stroke-width="4.0" stroke-dasharray="54 21" stroke-dashoffset="5" stroke-linecap="butt"/>
<use href="#ds11" stroke="#555" stroke-width="4.0" stroke-dasharray="54 21" stroke-linecap="butt"/>
<use href="#ds12" stroke="#555" stroke-width="4.0" stroke-dasharray="54 21" stroke-linecap="butt"/>
</g>
<g fill="#000">
<text x="348.5" y="1717.4" font-family='"Liberation Sans", Arial, sans-serif' font-size="67" font-weight="400" letter-spacing="-1.62">3500</text>
<text x="693.7" y="1717.4" font-family='"Liberation Sans", Arial, sans-serif' font-size="67" font-weight="400" letter-spacing="-1.76">3000</text>
<text x="1038.5" y="1717.4" font-family='"Liberation Sans", Arial, sans-serif' font-size="67" font-weight="400" letter-spacing="-1.17">2500</text>
<text x="1383.6" y="1717.4" font-family='"Liberation Sans", Arial, sans-serif' font-size="67" font-weight="400" letter-spacing="-0.67">2000</text>
<text x="1734.7" y="1717.4" font-family='"Liberation Sans", Arial, sans-serif' font-size="67" font-weight="400" letter-spacing="-2.45">1500</text>
<text x="2080.5" y="1717.4" font-family='"Liberation Sans", Arial, sans-serif' font-size="67" font-weight="400" letter-spacing="-1.95">1000</text>
<text x="513.4" y="432.1" font-family='"Liberation Sans", Arial, sans-serif' font-size="67" font-weight="400" letter-spacing="-1.29">3270</text>
<text x="523.1" y="667.1" font-family='"Liberation Sans", Arial, sans-serif' font-size="67" font-weight="400" letter-spacing="-2.44">3297</text>
<text x="513.4" y="865.4" font-family='"Liberation Sans", Arial, sans-serif' font-size="67" font-weight="400" letter-spacing="-2.17">3318</text>
<text x="523.1" y="1065.7" font-family='"Liberation Sans", Arial, sans-serif' font-size="67" font-weight="400" letter-spacing="-1.29">3320</text>
<text x="326.2" y="1247.3" font-family='"Liberation Sans", Arial, sans-serif' font-size="67" font-weight="400" letter-spacing="-0.74">3363</text>
<text x="816.3" y="921.6" font-family='"Liberation Sans", Arial, sans-serif' font-size="67" font-weight="400" letter-spacing="-1.3">2799</text>
<text x="699.3" y="1130.9" font-family='"Liberation Sans", Arial, sans-serif' font-size="67" font-weight="400" letter-spacing="-1.38">2936</text>
<text x="1725.9" y="907.5" font-family='"Liberation Sans", Arial, sans-serif' font-size="67" font-weight="400" letter-spacing="-2.77">1617</text>
<text x="1604.8" y="1100.4" font-family='"Liberation Sans", Arial, sans-serif' font-size="67" font-weight="400" letter-spacing="-2.08">1650</text>
<text x="2141.2" y="1275.1" font-family='"Liberation Sans", Arial, sans-serif' font-size="67" font-weight="400" letter-spacing="-1.08">998</text>
<text x="2058.3" y="1488.5" font-family='"Liberation Sans", Arial, sans-serif' font-size="67" font-weight="400" letter-spacing="-2.24">1025</text>
<text x="461.6" y="241.4" font-family='"Liberation Sans", Arial, sans-serif' font-size="67" font-weight="400" letter-spacing="-2.12">-OH</text>
<text x="765.8" y="134.3" font-family='"Liberation Sans", Arial, sans-serif' font-size="67" font-weight="400" letter-spacing="-1.73">C-H</text>
<text x="1624.2" y="116.2" font-family='"Liberation Serif", "Times New Roman", serif' font-size="68.21" font-weight="400" letter-spacing="-2.17">C=O</text>
<text x="2061.9" y="113.7" font-family='"Liberation Serif", "Times New Roman", serif' font-size="68.21" font-weight="400" letter-spacing="-0.73">Si-C</text>
<text x="2063.2" y="166.0" font-family='"Liberation Serif", "Times New Roman", serif' font-size="68.21" font-weight="400" letter-spacing="-3.5">C=C</text>
<text transform="translate(1272.7,240.8) scale(1.169,1)" font-family='"Liberation Sans", Arial, sans-serif' font-size="73.41" font-weight="400">e</text>
<text transform="translate(1264.5,473.8) scale(1.1,1)" font-family='"Liberation Sans", Arial, sans-serif' font-size="75.47" font-weight="400">d</text>
<text transform="translate(1267.4,717.6) scale(1.094,1)" font-family='"Liberation Sans", Arial, sans-serif' font-size="73.41" font-weight="400">c</text>
<text transform="translate(1272.1,878.5) scale(1.145,1)" font-family='"Liberation Sans", Arial, sans-serif' font-size="75.4" font-weight="400">b</text>
<text transform="translate(1267.5,1050.4) scale(0.995,1)" font-family='"Liberation Sans", Arial, sans-serif' font-size="75.83" font-weight="400">a</text>
<text transform="translate(1395.8,1861.8) scale(1.238,1)" font-family='"Liberation Serif", "Times New Roman", serif' font-size="76.5" font-weight="400">(</text>
<text transform="translate(1560.8,1861.8) scale(1.274,1)" font-family='"Liberation Serif", "Times New Roman", serif' font-size="76.5" font-weight="400">)</text>
<text transform="translate(82.1,1076.4) rotate(-90)" x="-2.6 30.9 72.8 102.1 137.7 179.9 213.4 234.0 259.8 300.3 327.3 370.8 394.9 439.1 452.8" y="0" font-family='"Liberation Serif", "Times New Roman", serif' font-size="78" font-weight="700">Intensity(α.μ.)</text>
<text x="911.6 992.2 1028.2 1071.8 1107.1 1153.1 1194.9 1264.0 1305.2 1341.6" y="1862.8" font-family='"Liberation Serif", "Times New Roman", serif' font-size="76.5" font-weight="700">Wavenumber</text>
<text x="1422.9 1457.8" y="1862.6" font-family='"Liberation Serif", "Times New Roman", serif' font-size="76.5" font-weight="700">cm</text>
<text x="1521.8 1538.6" y="1819.9" font-family='"Liberation Serif", "Times New Roman", serif' font-size="48" font-weight="700">-1</text>
</g>
</svg></body></html>
